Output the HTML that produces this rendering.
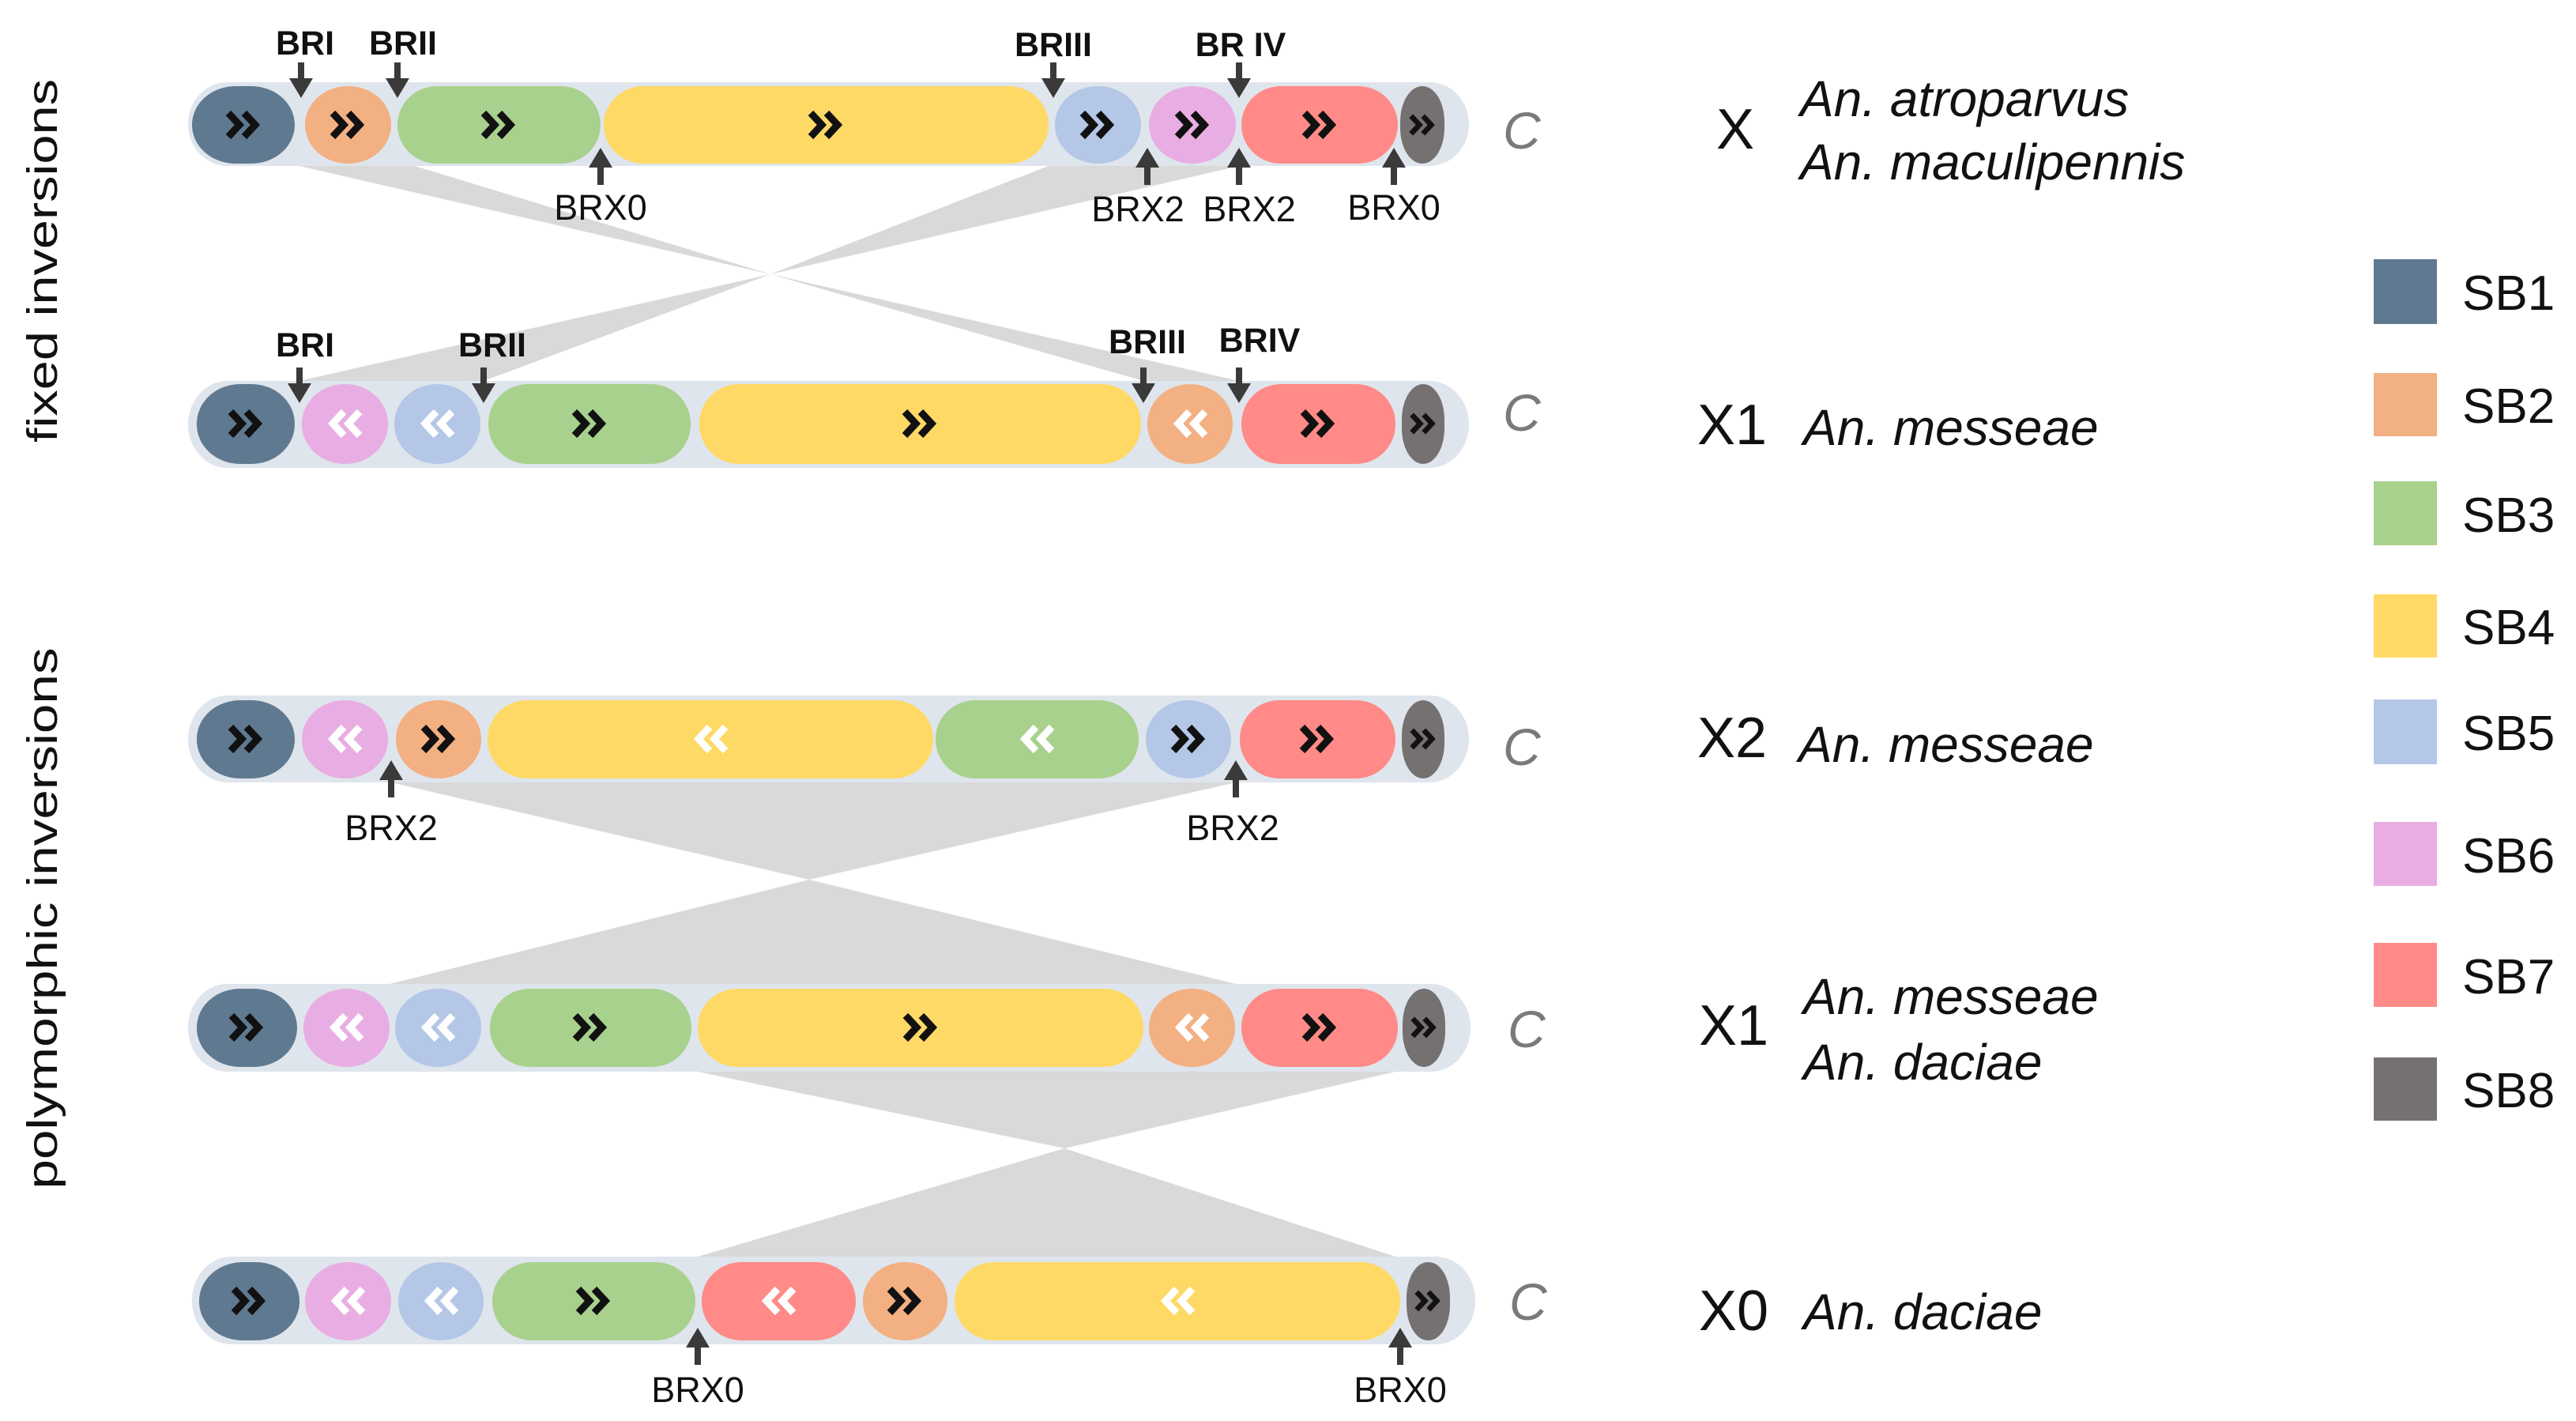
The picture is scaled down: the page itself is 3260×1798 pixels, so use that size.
<!DOCTYPE html>
<html><head><meta charset="utf-8"><style>
html,body{margin:0;padding:0;background:#fff;}
svg{display:block;}
text{font-family:"Liberation Sans",Arial,sans-serif;}
</style></head><body>
<svg width="3260" height="1798" viewBox="0 0 3260 1798" xmlns="http://www.w3.org/2000/svg">
<defs>
<g id="cf" fill="none" stroke="currentColor" stroke-width="9" stroke-linejoin="miter" stroke-miterlimit="10">
<polyline points="-19,-15 -5,0 -19,15"/><polyline points="1,-15 15,0 1,15"/>
</g>
<g id="cr"><use href="#cf" transform="scale(-1,1)"/></g>
<g id="ad"><rect x="-4" y="-45" width="8" height="22" fill="#3a3a3a"/><polygon points="-15,-25 15,-25 0,0" fill="#3a3a3a"/></g>
<g id="au"><rect x="-4" y="23" width="8" height="24" fill="#3a3a3a"/><polygon points="-15,25 15,25 0,0" fill="#3a3a3a"/></g>
</defs>

<!-- connectors -->
<g fill="#d9d9d9">
<polygon points="379,210 525,210 975,347"/>
<polygon points="1327,210 1568,210 975,347"/>
<polygon points="379,482 612,482 975,347"/>
<polygon points="1447,482 1568,482 975,347"/>
<polygon points="495,990 1564,990 1024,1113"/>
<polygon points="493,1245 1564,1245 1024,1113"/>
<polygon points="883,1356 1766,1356 1347,1453"/>
<polygon points="883,1590 1766,1590 1347,1453"/>
</g>

<!-- bars -->
<g fill="#dfe5ec">
<rect x="238" y="104" width="1621" height="106" rx="50" ry="53"/>
<rect x="238" y="482" width="1621" height="110" rx="50" ry="55"/>
<rect x="238" y="880" width="1621" height="110" rx="50" ry="55"/>
<rect x="238" y="1245" width="1623" height="111" rx="50" ry="55"/>
<rect x="243" y="1590" width="1624" height="111" rx="50" ry="55"/>
</g>

<!-- Row 1 -->
<g>
<rect x="243" y="109" width="130" height="98" rx="55" ry="49" fill="#5f7990"/>
<rect x="386" y="109" width="109" height="98" rx="54" ry="49" fill="#f2b083"/>
<rect x="503" y="109" width="257" height="98" rx="50" ry="49" fill="#a9d18e"/>
<rect x="764" y="109" width="563" height="98" rx="50" ry="49" fill="#ffd966"/>
<rect x="1335" y="109" width="109" height="98" rx="54" ry="49" fill="#b4c7e7"/>
<rect x="1454" y="109" width="110" height="98" rx="55" ry="49" fill="#e8aee3"/>
<rect x="1571" y="109" width="198" height="98" rx="50" ry="49" fill="#ff8a87"/>
<rect x="1772" y="109" width="56" height="98" rx="28" ry="45" fill="#767171"/>
<use href="#cf" color="#111" x="308" y="158"/>
<use href="#cf" color="#111" x="440" y="158"/>
<use href="#cf" color="#111" x="631" y="158"/>
<use href="#cf" color="#111" x="1045" y="158"/>
<use href="#cf" color="#111" x="1389" y="158"/>
<use href="#cf" color="#111" x="1509" y="158"/>
<use href="#cf" color="#111" x="1670" y="158"/>
<use href="#cf" color="#111" transform="translate(1800,158) scale(0.75)"/>
</g>

<!-- Row 2 -->
<g>
<rect x="249" y="486" width="124" height="101" rx="55" ry="50" fill="#5f7990"/>
<rect x="382" y="486" width="109" height="101" rx="54" ry="50" fill="#e8aee3"/>
<rect x="499" y="486" width="109" height="101" rx="54" ry="50" fill="#b4c7e7"/>
<rect x="618" y="486" width="256" height="101" rx="50" ry="50" fill="#a9d18e"/>
<rect x="885" y="486" width="559" height="101" rx="50" ry="50" fill="#ffd966"/>
<rect x="1452" y="486" width="108" height="101" rx="54" ry="50" fill="#f2b083"/>
<rect x="1571" y="486" width="195" height="101" rx="50" ry="50" fill="#ff8a87"/>
<rect x="1774" y="486" width="54" height="101" rx="27" ry="45" fill="#767171"/>
<use href="#cf" color="#111" x="311" y="536"/>
<use href="#cr" color="#fff" x="436" y="536"/>
<use href="#cr" color="#fff" x="553" y="536"/>
<use href="#cf" color="#111" x="746" y="536"/>
<use href="#cf" color="#111" x="1164" y="536"/>
<use href="#cr" color="#fff" x="1506" y="536"/>
<use href="#cf" color="#111" x="1668" y="536"/>
<use href="#cf" color="#111" transform="translate(1801,536) scale(0.75)"/>
</g>

<!-- Row 3 -->
<g>
<rect x="249" y="886" width="124" height="99" rx="55" ry="49" fill="#5f7990"/>
<rect x="382" y="886" width="109" height="99" rx="54" ry="49" fill="#e8aee3"/>
<rect x="501" y="886" width="108" height="99" rx="54" ry="49" fill="#f2b083"/>
<rect x="617" y="886" width="564" height="99" rx="50" ry="49" fill="#ffd966"/>
<rect x="1184" y="886" width="257" height="99" rx="50" ry="49" fill="#a9d18e"/>
<rect x="1450" y="886" width="108" height="99" rx="54" ry="49" fill="#b4c7e7"/>
<rect x="1569" y="886" width="197" height="99" rx="50" ry="49" fill="#ff8a87"/>
<rect x="1774" y="886" width="54" height="99" rx="27" ry="45" fill="#767171"/>
<use href="#cf" color="#111" x="311" y="935"/>
<use href="#cr" color="#fff" x="436" y="935"/>
<use href="#cf" color="#111" x="555" y="935"/>
<use href="#cr" color="#fff" x="899" y="935"/>
<use href="#cr" color="#fff" x="1312" y="935"/>
<use href="#cf" color="#111" x="1504" y="935"/>
<use href="#cf" color="#111" x="1667" y="935"/>
<use href="#cf" color="#111" transform="translate(1801,935) scale(0.75)"/>
</g>

<!-- Row 4 -->
<g>
<rect x="249" y="1251" width="127" height="99" rx="55" ry="49" fill="#5f7990"/>
<rect x="384" y="1251" width="109" height="99" rx="54" ry="49" fill="#e8aee3"/>
<rect x="500" y="1251" width="109" height="99" rx="54" ry="49" fill="#b4c7e7"/>
<rect x="620" y="1251" width="255" height="99" rx="50" ry="49" fill="#a9d18e"/>
<rect x="883" y="1251" width="564" height="99" rx="50" ry="49" fill="#ffd966"/>
<rect x="1454" y="1251" width="109" height="99" rx="54" ry="49" fill="#f2b083"/>
<rect x="1571" y="1251" width="198" height="99" rx="50" ry="49" fill="#ff8a87"/>
<rect x="1775" y="1251" width="54" height="99" rx="27" ry="45" fill="#767171"/>
<use href="#cf" color="#111" x="312" y="1300"/>
<use href="#cr" color="#fff" x="438" y="1300"/>
<use href="#cr" color="#fff" x="554" y="1300"/>
<use href="#cf" color="#111" x="747" y="1300"/>
<use href="#cf" color="#111" x="1165" y="1300"/>
<use href="#cr" color="#fff" x="1508" y="1300"/>
<use href="#cf" color="#111" x="1670" y="1300"/>
<use href="#cf" color="#111" transform="translate(1802,1300) scale(0.75)"/>
</g>

<!-- Row 5 -->
<g>
<rect x="252" y="1597" width="127" height="99" rx="55" ry="49" fill="#5f7990"/>
<rect x="386" y="1597" width="109" height="99" rx="54" ry="49" fill="#e8aee3"/>
<rect x="504" y="1597" width="108" height="99" rx="54" ry="49" fill="#b4c7e7"/>
<rect x="623" y="1597" width="257" height="99" rx="50" ry="49" fill="#a9d18e"/>
<rect x="888" y="1597" width="195" height="99" rx="50" ry="49" fill="#ff8a87"/>
<rect x="1092" y="1597" width="107" height="99" rx="53" ry="49" fill="#f2b083"/>
<rect x="1208" y="1597" width="564" height="99" rx="50" ry="49" fill="#ffd966"/>
<rect x="1780" y="1597" width="55" height="99" rx="27" ry="45" fill="#767171"/>
<use href="#cf" color="#111" x="315" y="1646"/>
<use href="#cr" color="#fff" x="440" y="1646"/>
<use href="#cr" color="#fff" x="558" y="1646"/>
<use href="#cf" color="#111" x="751" y="1646"/>
<use href="#cr" color="#fff" x="985" y="1646"/>
<use href="#cf" color="#111" x="1145" y="1646"/>
<use href="#cr" color="#fff" x="1490" y="1646"/>
<use href="#cf" color="#111" transform="translate(1807,1646) scale(0.75)"/>
</g>

<!-- arrows -->
<use href="#ad" x="381" y="124"/>
<use href="#ad" x="503" y="124"/>
<use href="#ad" x="1333" y="124"/>
<use href="#ad" x="1568" y="124"/>
<use href="#au" x="760" y="187"/>
<use href="#au" x="1452" y="187"/>
<use href="#au" x="1568" y="187"/>
<use href="#au" x="1764" y="187"/>
<use href="#ad" x="379" y="510"/>
<use href="#ad" x="612" y="510"/>
<use href="#ad" x="1447" y="510"/>
<use href="#ad" x="1568" y="510"/>
<use href="#au" x="495" y="962"/>
<use href="#au" x="1564" y="962"/>
<use href="#au" x="883" y="1680"/>
<use href="#au" x="1772" y="1680"/>

<!-- BR labels -->
<g font-weight="bold" font-size="43" fill="#111" text-anchor="middle">
<text x="386" y="69">BRI</text>
<text x="510" y="69">BRII</text>
<text x="1333" y="71">BRIII</text>
<text x="1570" y="71">BR IV</text>
<text x="386" y="451">BRI</text>
<text x="623" y="451">BRII</text>
<text x="1452" y="447">BRIII</text>
<text x="1594" y="445">BRIV</text>
</g>
<g font-size="45" fill="#111" text-anchor="middle">
<text x="760" y="278">BRX0</text>
<text x="1440" y="280">BRX2</text>
<text x="1581" y="280">BRX2</text>
<text x="1764" y="278">BRX0</text>
<text x="495" y="1063">BRX2</text>
<text x="1560" y="1063">BRX2</text>
<text x="883" y="1774">BRX0</text>
<text x="1772" y="1774">BRX0</text>
</g>

<!-- C labels -->
<g font-size="66" font-style="italic" fill="#7a7a7a">
<text x="1902" y="188">C</text>
<text x="1902" y="545">C</text>
<text x="1902" y="968">C</text>
<text x="1908" y="1325">C</text>
<text x="1910" y="1670">C</text>
</g>

<!-- chromosome names -->
<g font-size="72" fill="#111">
<text x="2172" y="188">X</text>
<text x="2148" y="562">X1</text>
<text x="2148" y="958">X2</text>
<text x="2150" y="1322">X1</text>
<text x="2150" y="1683">X0</text>
</g>
<g font-size="64" font-style="italic" fill="#111">
<text x="2278" y="147">An. atroparvus</text>
<text x="2278" y="227">An. maculipennis</text>
<text x="2282" y="563">An. messeae</text>
<text x="2276" y="964">An. messeae</text>
<text x="2282" y="1283">An. messeae</text>
<text x="2282" y="1366">An. daciae</text>
<text x="2282" y="1682">An. daciae</text>
</g>

<!-- left vertical labels -->
<text transform="translate(72,330) rotate(-90)" font-size="54" fill="#111" text-anchor="middle" textLength="460" lengthAdjust="spacingAndGlyphs">fixed inversions</text>
<text transform="translate(72,1162) rotate(-90)" font-size="54" fill="#111" text-anchor="middle" textLength="685" lengthAdjust="spacingAndGlyphs">polymorphic inversions</text>

<!-- legend -->
<g>
<rect x="3004" y="328" width="80" height="82" fill="#5f7990"/>
<rect x="3004" y="472" width="80" height="80" fill="#f2b083"/>
<rect x="3004" y="609" width="80" height="81" fill="#a9d18e"/>
<rect x="3004" y="752" width="80" height="80" fill="#ffd966"/>
<rect x="3004" y="885" width="80" height="82" fill="#b4c7e7"/>
<rect x="3004" y="1040" width="80" height="81" fill="#e8aee3"/>
<rect x="3004" y="1193" width="80" height="81" fill="#ff8a87"/>
<rect x="3004" y="1338" width="80" height="80" fill="#767171"/>
</g>
<g font-size="62" fill="#111">
<text x="3116" y="392">SB1</text>
<text x="3116" y="535">SB2</text>
<text x="3116" y="673">SB3</text>
<text x="3116" y="815">SB4</text>
<text x="3116" y="949">SB5</text>
<text x="3116" y="1104">SB6</text>
<text x="3116" y="1257">SB7</text>
<text x="3116" y="1401">SB8</text>
</g>
</svg>
</body></html>
